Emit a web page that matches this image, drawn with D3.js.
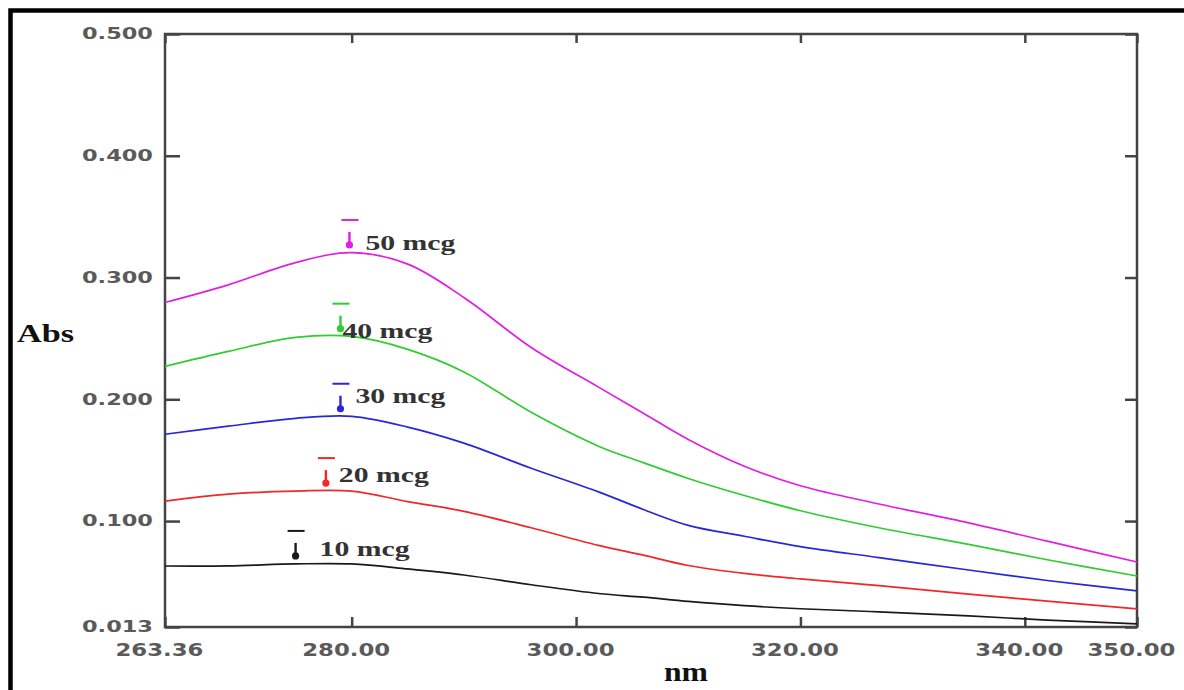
<!DOCTYPE html>
<html>
<head>
<meta charset="utf-8">
<script src="https://cdn.jsdelivr.net/npm/d3@7"></script>
<style>
  body { margin: 0; background: #fff; }
  svg { display: block; }
</style>
</head>
<body>
<div id="chart"></div>
<script>
// wavelengths (nm) where the spectra were read
const wavelengths = [263.36, 269, 275, 280, 285, 290, 296, 302, 306, 310, 315, 320, 327, 335, 342, 350];

// absorbance of each concentration
const series = ["10 mcg", "20 mcg", "30 mcg", "40 mcg", "50 mcg"];
const abs10 = [0.0631, 0.0632, 0.0648, 0.0648, 0.0607, 0.0557, 0.0477, 0.0405, 0.0375, 0.0340, 0.0305, 0.0280, 0.0254, 0.0221, 0.0187, 0.0156];
const abs20 = [0.1164, 0.1221, 0.1246, 0.1246, 0.1160, 0.1080, 0.0945, 0.0800, 0.0720, 0.0635, 0.0570, 0.0525, 0.0470, 0.0400, 0.0342, 0.0279];
const abs30 = [0.1713, 0.1779, 0.1844, 0.1860, 0.1772, 0.1640, 0.1434, 0.1240, 0.1095, 0.0965, 0.0875, 0.0790, 0.0700, 0.0598, 0.0512, 0.0426];
const abs40 = [0.2270, 0.2393, 0.2508, 0.2516, 0.2410, 0.2225, 0.1893, 0.1615, 0.1480, 0.1350, 0.1210, 0.1085, 0.0945, 0.0808, 0.0682, 0.0549];
const abs50 = [0.2795, 0.2940, 0.3123, 0.3205, 0.3110, 0.2836, 0.2426, 0.2100, 0.1885, 0.1670, 0.1450, 0.1290, 0.1140, 0.0985, 0.0835, 0.0664];

// wavelength of the peak marker on each curve
const peakNm = [275.0, 277.7, 279.0, 279.0, 279.8];

// tick labels
const yTicks = [0.013, 0.100, 0.200, 0.300, 0.400, 0.500];
const xTicks = [263.36, 280, 300, 320, 340, 350];

const colors = ["#1a1a1a", "#f02828", "#2828d8", "#30cc30", "#e020e0"];
// label nudges relative to the marker dot
const labelShift = [[24, 0], [13, -1], [15, -6], [2, 9], [16, 5]];

const allAbs = [abs10, abs20, abs30, abs40, abs50];

const width = 1184;
const height = 690;

const svg = d3.select("#chart")
  .append("svg")
  .attr("width", width)
  .attr("height", height);

// outer frame (clipped on the right and bottom)
svg.append("rect")
  .attr("x", 10.5).attr("y", 10.5)
  .attr("width", 1220).attr("height", 720)
  .attr("fill", "none")
  .attr("stroke", "#000")
  .attr("stroke-width", 4.5);

const x = d3.scaleLinear().domain([263.36, 350]).range([165, 1137]);
const y = d3.scaleLinear().domain([0.013, 0.5]).range([627, 34]);

function styleAxis(g) {
  g.select(".domain").remove();
  g.selectAll(".tick line").attr("stroke", "#444").attr("stroke-width", 2.5);
}

// left axis with labels
const yAxis = svg.append("g")
  .attr("transform", "translate(165,0)")
  .call(d3.axisLeft(y).tickValues(yTicks).tickFormat(d3.format(".3f"))
    .tickSizeInner(-15).tickSizeOuter(0).tickPadding(12));
styleAxis(yAxis);
yAxis.selectAll("text")
  .attr("font-family", "DejaVu Sans")
  .attr("font-weight", "bold")
  .attr("font-size", 15)
  .attr("fill", "#5a5a5a")
  .attr("textLength", 71)
  .attr("lengthAdjust", "spacingAndGlyphs");

// right axis, ticks only
const yAxisR = svg.append("g")
  .attr("transform", "translate(1137,0)")
  .call(d3.axisRight(y).tickValues(yTicks).tickSizeInner(-12).tickSizeOuter(0).tickFormat(""));
styleAxis(yAxisR);

// bottom axis with labels
const xAxis = svg.append("g")
  .attr("transform", "translate(0,627)")
  .call(d3.axisBottom(x).tickValues(xTicks).tickFormat(d3.format(".2f"))
    .tickSizeInner(-10).tickSizeOuter(0).tickPadding(17));
styleAxis(xAxis);
xAxis.selectAll("text")
  .attr("x", -6)
  .attr("font-family", "DejaVu Sans")
  .attr("font-weight", "bold")
  .attr("font-size", 17)
  .attr("fill", "#5a5a5a")
  .attr("textLength", 88)
  .attr("lengthAdjust", "spacingAndGlyphs");

// top axis, ticks only
const xAxisT = svg.append("g")
  .attr("transform", "translate(0,34)")
  .call(d3.axisTop(x).tickValues(xTicks).tickSizeInner(-9).tickSizeOuter(0).tickFormat(""));
styleAxis(xAxisT);

// plot frame
svg.append("rect")
  .attr("x", x(263.36)).attr("y", y(0.5))
  .attr("width", x(350) - x(263.36))
  .attr("height", y(0.013) - y(0.5))
  .attr("fill", "none")
  .attr("stroke", "#444")
  .attr("stroke-width", 2.5);

// spectra
const line = d3.line()
  .x(d => x(d[0]))
  .y(d => y(d[1]))
  .curve(d3.curveCatmullRom.alpha(0.5));

allAbs.forEach((vals, i) => {
  svg.append("path")
    .datum(wavelengths.map((w, j) => [w, vals[j]]))
    .attr("fill", "none")
    .attr("stroke", colors[i])
    .attr("stroke-width", 1.7)
    .attr("d", line);
});

// value at a wavelength by linear interpolation
function absAt(vals, nm) {
  const k = Math.max(1, d3.bisectLeft(wavelengths, nm));
  const t = (nm - wavelengths[k - 1]) / (wavelengths[k] - wavelengths[k - 1]);
  return vals[k - 1] + t * (vals[k] - vals[k - 1]);
}

// peak markers and labels
series.forEach((name, i) => {
  const px = x(peakNm[i]);
  const cy = y(absAt(allAbs[i], peakNm[i])) - 8;
  const g = svg.append("g");
  g.append("line")
    .attr("x1", px - 8).attr("x2", px + 9)
    .attr("y1", cy - 25).attr("y2", cy - 25)
    .attr("stroke", colors[i]).attr("stroke-width", 2);
  g.append("line")
    .attr("x1", px).attr("x2", px)
    .attr("y1", cy - 13).attr("y2", cy)
    .attr("stroke", colors[i]).attr("stroke-width", 2.4);
  g.append("circle")
    .attr("cx", px).attr("cy", cy).attr("r", 3.6)
    .attr("fill", colors[i]);
  g.append("text")
    .attr("x", px + labelShift[i][0])
    .attr("y", cy + labelShift[i][1])
    .attr("font-family", "Liberation Serif")
    .attr("font-weight", "bold")
    .attr("font-size", 21)
    .attr("fill", "#333")
    .attr("textLength", 90)
    .attr("lengthAdjust", "spacingAndGlyphs")
    .text(name);
});

// axis titles
svg.append("text")
  .attr("x", 17).attr("y", 342)
  .attr("font-family", "Liberation Serif")
  .attr("font-weight", "bold")
  .attr("font-size", 26)
  .attr("fill", "#111")
  .attr("textLength", 57)
  .attr("lengthAdjust", "spacingAndGlyphs")
  .text("Abs");

svg.append("text")
  .attr("x", 686).attr("y", 681)
  .attr("text-anchor", "middle")
  .attr("font-family", "Liberation Serif")
  .attr("font-weight", "bold")
  .attr("font-size", 27)
  .attr("fill", "#111")
  .attr("textLength", 44)
  .attr("lengthAdjust", "spacingAndGlyphs")
  .text("nm");
</script>
</body>
</html>
